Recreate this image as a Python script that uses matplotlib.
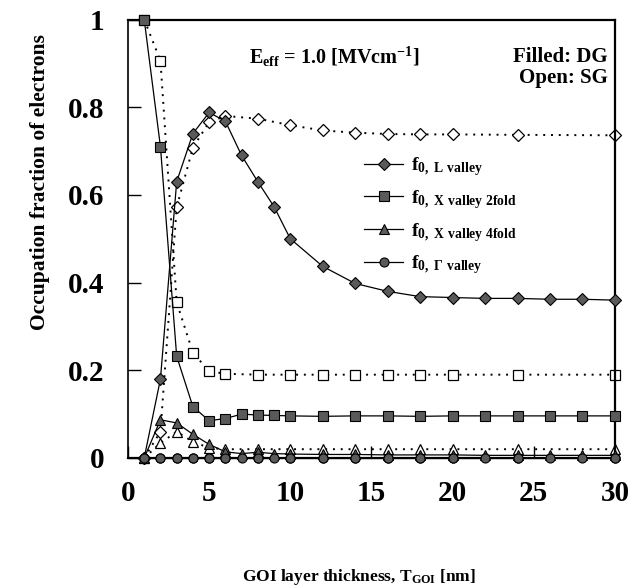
import matplotlib
matplotlib.use("Agg")
import matplotlib.pyplot as plt

plt.rcParams['font.family'] = ['Liberation Serif', 'DejaVu Serif']
plt.rcParams['font.weight'] = 'bold'
plt.rcParams['mathtext.fontset'] = 'custom'
plt.rcParams['mathtext.rm'] = 'Liberation Serif:bold'
plt.rcParams['mathtext.it'] = 'Liberation Serif:bold'
plt.rcParams['mathtext.bf'] = 'Liberation Serif:bold'

# Double gate (filled markers, solid lines)
x_dg = [1, 2, 3, 4, 5, 6, 7, 8, 9, 10, 12, 14, 16, 18, 20, 22, 24, 26, 28, 30]
L_dg = [0.0, 0.18, 0.63, 0.74, 0.788, 0.768, 0.69, 0.63, 0.573, 0.50, 0.437,
        0.398, 0.38, 0.368, 0.366, 0.364, 0.364, 0.362, 0.362, 0.36]
X2_dg = [1.0, 0.71, 0.232, 0.117, 0.085, 0.09, 0.10, 0.098, 0.097, 0.096, 0.095,
         0.096, 0.096, 0.095, 0.096, 0.096, 0.096, 0.096, 0.096, 0.096]
X4_dg = [0.0, 0.087, 0.08, 0.054, 0.031, 0.014, 0.01, 0.013, 0.01, 0.009, 0.008,
         0.008, 0.007, 0.007, 0.007, 0.006, 0.006, 0.006, 0.006, 0.006]
G_dg = [0.0, 0.0, 0.0, 0.0, 0.0, 0.0, 0.0, 0.0, 0.0, 0.0, 0.0,
        0.0, 0.0, 0.0, 0.0, 0.0, 0.0, 0.0, 0.0, 0.0]

# Single gate (open markers, dotted lines)
x_sg = [1, 2, 3, 4, 5, 6, 8, 10, 12, 14, 16, 18, 20, 24, 30]
L_sg = [0.0, 0.06, 0.572, 0.708, 0.766, 0.78, 0.774, 0.759, 0.747, 0.742,
        0.739, 0.738, 0.738, 0.737, 0.736]
X2_sg = [1.0, 0.906, 0.355, 0.24, 0.198, 0.192, 0.19, 0.19, 0.19, 0.19,
         0.19, 0.19, 0.19, 0.19, 0.19]
X4_sg = [0.0, 0.034, 0.06, 0.037, 0.023, 0.02, 0.02, 0.02, 0.02, 0.02,
         0.02, 0.02, 0.02, 0.02, 0.02]
G_sg = [0.0, 0.0, 0.0, 0.0, 0.0, 0.0, 0.0, 0.0, 0.0, 0.0,
        0.0, 0.0, 0.0, 0.0, 0.0]

labels = [r'f$_{\mathrm{0,\ L\ valley}}$',
          r'f$_{\mathrm{0,\ X\ valley\ 2fold}}$',
          r'f$_{\mathrm{0,\ X\ valley\ 4fold}}$',
          r'f$_{\mathrm{0,\ \Gamma\ valley}}$']
markers = ['D', 's', '^', 'o']
sizes = [6, 7.5, 7.5, 6.5]

xticks = [0, 5, 10, 15, 20, 25, 30]
yticks = [0, 0.2, 0.4, 0.6, 0.8, 1.0]
yticklabels = ['0', '0.2', '0.4', '0.6', '0.8', '1']

fig = plt.figure(figsize=(6.32, 5.87), dpi=100)
ax = fig.add_axes([0.2025, 0.2198, 0.7705, 0.7469])

fill = '#5a5a5a'
sg_series = [L_sg, X2_sg, X4_sg, G_sg]
dg_series = [L_dg, X2_dg, X4_dg, G_dg]

for ys, m, s in zip(sg_series, markers, sizes):
    ax.plot(x_sg, ys, linestyle=(0, (1, 3)), color='black', linewidth=1.4,
            marker=m, markersize=s, markerfacecolor='white',
            markeredgecolor='black', markeredgewidth=0.9, clip_on=False, zorder=2)

handles = []
for ys, m, s, lab in zip(dg_series, markers, sizes, labels):
    h, = ax.plot(x_dg, ys, linestyle='-', color='black', linewidth=0.9,
                 marker=m, markersize=s, markerfacecolor=fill,
                 markeredgecolor='black', markeredgewidth=0.8, clip_on=False,
                 zorder=3, label=lab)
    handles.append(h)

ax.set_xlim(0, 30)
ax.set_ylim(0, 1)
ax.set_xticks(xticks)
ax.set_xticklabels([str(v) for v in xticks])
ax.set_yticks(yticks)
ax.set_yticklabels(yticklabels)
ax.tick_params(axis='both', direction='in', length=9, width=1.0, labelsize=21)
ax.tick_params(axis='x', pad=16)
ax.tick_params(axis='y', pad=17)
for sp in ax.spines.values():
    sp.set_linewidth(1.6)
ax.spines['left'].set_linewidth(1.2)

ax.set_ylabel('Occupation fraction of electrons', fontsize=15.5, fontweight='bold')
ax.yaxis.set_label_coords(-0.16, 0.63)
ax.set_xlabel(r'GOI layer thickness, T$_{\mathrm{GOI}}$ [nm]', fontsize=12.5,
              fontweight='bold', va='center')
ax.xaxis.set_label_coords(0.474, -0.272)

ax.text(0.248, 0.915, r'E$_{\mathrm{eff}}$ = 1.0 [MVcm$^{\mathrm{-1}}$]',
        transform=ax.transAxes, fontsize=14.5, va='center', ha='left')
ax.text(0.985, 0.915, 'Filled: DG', transform=ax.transAxes, fontsize=15,
        va='center', ha='right')
ax.text(0.985, 0.866, 'Open: SG', transform=ax.transAxes, fontsize=15,
        va='center', ha='right')

leg = ax.legend(handles=handles, loc='upper left', bbox_to_anchor=(0.485, 0.69),
                frameon=False, fontsize=14, handlelength=2.0, handletextpad=0.4,
                labelspacing=0.5, borderpad=0, borderaxespad=0)

fig.savefig('out.png', dpi=100)
